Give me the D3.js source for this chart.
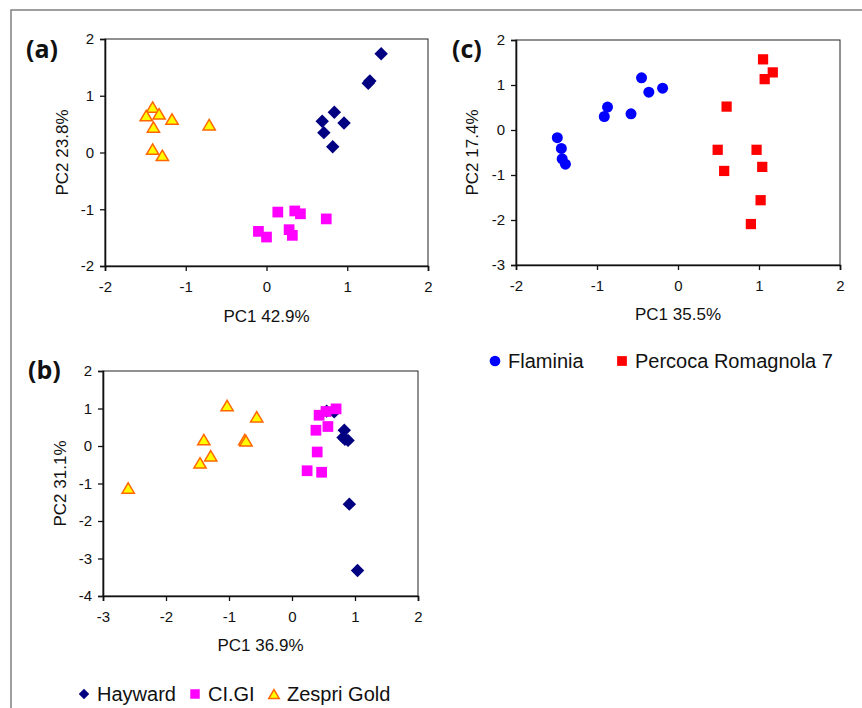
<!DOCTYPE html>
<html>
<head>
<meta charset="utf-8">
<script src="https://cdn.jsdelivr.net/npm/d3@7"></script>
<style>
  body { margin: 0; background: #fff; }
  svg { display: block; font-family: "Liberation Sans", Arial, sans-serif; }
  .tick text { font-size: 15px; fill: #111; }
</style>
</head>
<body>
<div class="chart"></div>
<script>
// panel (a)
var aHaywardX = [1.42, 1.28, 1.26, 0.84, 0.69, 0.96, 0.71, 0.82];
var aHaywardY = [1.74, 1.26, 1.22, 0.71, 0.55, 0.52, 0.35, 0.10];
var aClgiX = [0.14, 0.35, 0.42, 0.74, -0.10, 0.00, 0.28, 0.32];
var aClgiY = [-1.05, -1.03, -1.08, -1.17, -1.39, -1.49, -1.36, -1.46];
var aZespriX = [-1.41, -1.49, -1.33, -1.17, -1.40, -0.71, -1.41, -1.29];
var aZespriY = [0.80, 0.65, 0.68, 0.59, 0.45, 0.49, 0.06, -0.05];

// panel (b)
var bHaywardX = [0.55, 0.67, 0.83, 0.81, 0.89, 0.84, 0.91, 1.04];
var bHaywardY = [0.93, 0.91, 0.42, 0.23, 0.15, 0.18, -1.55, -3.32];
var bClgiX = [0.24, 0.47, 0.40, 0.38, 0.57, 0.43, 0.54, 0.70];
var bClgiY = [-0.66, -0.70, -0.16, 0.42, 0.52, 0.82, 0.92, 0.99];
var bZespriX = [-2.60, -1.46, -1.40, -1.29, -1.03, -0.75, -0.73, -0.56];
var bZespriY = [-1.12, -0.45, 0.17, -0.26, 1.08, 0.17, 0.14, 0.78];

// panel (c)
var cFlaminiaX = [-1.49, -1.44, -1.43, -1.39, -0.91, -0.87, -0.58, -0.45, -0.36, -0.19];
var cFlaminiaY = [-0.17, -0.41, -0.64, -0.76, 0.30, 0.51, 0.36, 1.16, 0.84, 0.93];
var cPercocaX = [1.05, 1.17, 1.07, 0.60, 0.49, 0.97, 0.57, 1.04, 1.02, 0.90];
var cPercocaY = [1.57, 1.28, 1.13, 0.52, -0.44, -0.44, -0.91, -0.82, -1.56, -2.09];

var aTicksX = [-2, -1, 0, 1, 2], aTicksY = [-2, -1, 0, 1, 2];
var bTicksX = [-3, -2, -1, 0, 1, 2], bTicksY = [-4, -3, -2, -1, 0, 1, 2];
var cTicksX = [-2, -1, 0, 1, 2], cTicksY = [-3, -2, -1, 0, 1, 2];

var legendB = ["Hayward", "CI.GI", "Zespri Gold"];
var legendC = ["Flaminia", "Percoca Romagnola 7"];

// excel-like triangle, centred on its bounding box
var triangle = {
    draw: function (ctx, size) {
        var w = Math.sqrt(size), h = w * 0.85;
        ctx.moveTo(0, -h / 2);
        ctx.lineTo(w / 2, h / 2);
        ctx.lineTo(-w / 2, h / 2);
        ctx.closePath();
    }
};
var diamond = {
    draw: function (ctx, size) {
        var r = Math.sqrt(size) / 2;
        ctx.moveTo(0, -r); ctx.lineTo(r, 0); ctx.lineTo(0, r); ctx.lineTo(-r, 0); ctx.closePath();
    }
};

var styles = {
    hayward: { type: diamond, size: 180, fill: "#000080", stroke: "none" },
    clgi: { type: d3.symbolSquare, size: 115, fill: "#ff00ff", stroke: "none" },
    zespri: { type: triangle, size: 150, fill: "#ffff00", stroke: "#ff6600" },
    flaminia: { type: d3.symbolCircle, size: 95, fill: "#0000ff", stroke: "none" },
    percoca: { type: d3.symbolSquare, size: 105, fill: "#ff0000", stroke: "none" }
};

var svg = d3.select(".chart").append("svg")
    .attr("width", 862).attr("height", 708);

// outer frame
svg.append("rect")
    .attr("x", 11).attr("y", 10).attr("width", 900).attr("height", 800)
    .attr("fill", "none").attr("stroke", "#808080").attr("stroke-width", 1.5);

function drawPanel(p) {
    var x = d3.scaleLinear().domain(d3.extent(p.ticksX)).range([p.left, p.right]);
    var y = d3.scaleLinear().domain(d3.extent(p.ticksY)).range([p.bottom, p.top]);
    var g = svg.append("g");

    g.append("rect")
        .attr("x", p.left).attr("y", p.top)
        .attr("width", p.right - p.left).attr("height", p.bottom - p.top)
        .attr("fill", "none").attr("stroke", "#222").attr("stroke-width", 1);

    var xa = g.append("g").attr("transform", "translate(0," + p.bottom + ")")
        .call(d3.axisBottom(x).tickValues(p.ticksX).tickSize(5).tickPadding(10).tickFormat(d3.format("d")));
    var ya = g.append("g").attr("transform", "translate(" + p.left + ",0)")
        .call(d3.axisLeft(y).tickValues(p.ticksY).tickSize(5).tickPadding(6).tickFormat(d3.format("d")));
    [xa, ya].forEach(function (a) {
        a.select(".domain").attr("stroke", "#111").attr("stroke-width", 1.6);
        a.selectAll(".tick line").attr("stroke", "#111").attr("stroke-width", 1.3);
        a.selectAll(".tick text").text(function (d) { return d < 0 ? "-" + Math.abs(d) : d; });
    });

    p.series.forEach(function (s) {
        var st = styles[s.key];
        var pts = s.xs.map(function (v, i) { return [v, s.ys[i]]; });
        g.append("g").selectAll("path").data(pts).enter().append("path")
            .attr("d", d3.symbol().type(st.type).size(st.size))
            .attr("transform", function (d) { return "translate(" + x(d[0]) + "," + y(d[1]) + ")"; })
            .attr("fill", st.fill)
            .attr("stroke", st.stroke)
            .attr("stroke-width", 1.5);
    });

    g.append("text")
        .attr("x", (p.left + p.right) / 2).attr("y", p.xTitleY)
        .attr("text-anchor", "middle").attr("font-size", 17).attr("fill", "#111")
        .text(p.xTitle);
    g.append("text")
        .attr("transform", "translate(" + p.yTitleX + "," + (p.top + p.bottom) / 2 + ") rotate(-90)")
        .attr("text-anchor", "middle").attr("font-size", 17).attr("fill", "#111")
        .text(p.yTitle);
    g.append("text")
        .attr("x", p.labelX).attr("y", p.labelY)
        .attr("font-family", "'Open Sans', 'Noto Sans', sans-serif")
        .attr("font-weight", "bold").attr("font-size", 25).attr("fill", "#111")
        .text(p.label);
}

drawPanel({
    label: "(a)", labelX: 26, labelY: 58,
    left: 105, top: 39, right: 428, bottom: 266,
    ticksX: aTicksX, ticksY: aTicksY,
    xTitle: "PC1 42.9%", xTitleY: 322, yTitle: "PC2 23.8%", yTitleX: 68,
    series: [
        { key: "hayward", xs: aHaywardX, ys: aHaywardY },
        { key: "clgi", xs: aClgiX, ys: aClgiY },
        { key: "zespri", xs: aZespriX, ys: aZespriY }
    ]
});

drawPanel({
    label: "(b)", labelX: 28, labelY: 379,
    left: 103, top: 371, right: 418, bottom: 596,
    ticksX: bTicksX, ticksY: bTicksY,
    xTitle: "PC1 36.9%", xTitleY: 651, yTitle: "PC2 31.1%", yTitleX: 66,
    series: [
        { key: "hayward", xs: bHaywardX, ys: bHaywardY },
        { key: "clgi", xs: bClgiX, ys: bClgiY },
        { key: "zespri", xs: bZespriX, ys: bZespriY }
    ]
});

drawPanel({
    label: "(c)", labelX: 452, labelY: 58,
    left: 516, top: 40, right: 840, bottom: 265,
    ticksX: cTicksX, ticksY: cTicksY,
    xTitle: "PC1 35.5%", xTitleY: 320, yTitle: "PC2 17.4%", yTitleX: 478,
    series: [
        { key: "flaminia", xs: cFlaminiaX, ys: cFlaminiaY },
        { key: "percoca", xs: cPercocaX, ys: cPercocaY }
    ]
});

// legends
function legend(items, keys, xs, y, sizes) {
    var g = svg.append("g");
    items.forEach(function (name, i) {
        var st = styles[keys[i]];
        g.append("path")
            .attr("d", d3.symbol().type(st.type).size(sizes[i]))
            .attr("transform", "translate(" + (xs[i] - 13) + "," + (y - 7) + ")")
            .attr("fill", st.fill).attr("stroke", st.stroke).attr("stroke-width", 1.5);
        g.append("text")
            .attr("x", xs[i]).attr("y", y)
            .attr("font-size", 20).attr("fill", "#111")
            .text(name);
    });
}
legend(legendB, ["hayward", "clgi", "zespri"], [97, 208, 287], 701, [110, 90, 110]);
legend(legendC, ["flaminia", "percoca"], [508, 635], 368, [90, 95]);
</script>
</body>
</html>
